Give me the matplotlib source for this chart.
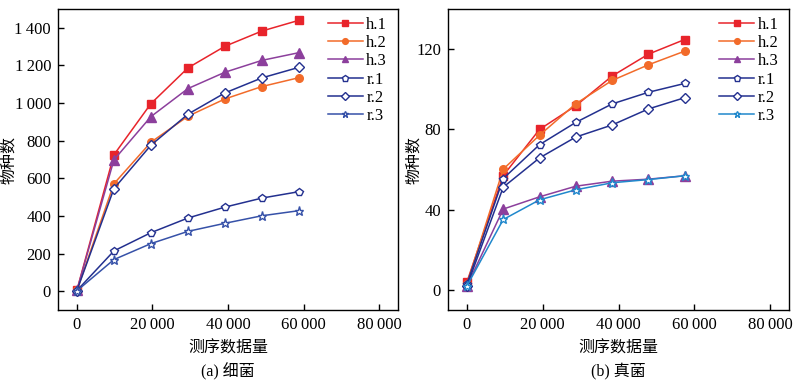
import numpy as np
import matplotlib.pyplot as plt
from matplotlib.ticker import FuncFormatter

plt.rcParams['font.family'] = ['Liberation Serif', 'Noto Sans CJK SC']
plt.rcParams['axes.unicode_minus'] = False

# sequencing depth (x) for each panel
x_bact = [0, 9800, 19600, 29400, 39200, 49000, 58800]
x_fung = [0, 9580, 19160, 28740, 38320, 47900, 57480]

# (a) bacteria
bact_h1 = [5, 725, 997, 1187, 1302, 1383, 1440]
bact_h2 = [4, 571, 792, 930, 1022, 1088, 1135]
bact_h3 = [4, 698, 928, 1077, 1164, 1227, 1268]
bact_r1 = [3, 214, 311, 389, 447, 495, 529]
bact_r2 = [3, 545, 776, 941, 1054, 1134, 1190]
bact_r3 = [2, 168, 253, 318, 361, 401, 428]

# (b) fungi
fung_h1 = [4, 57, 80, 91.8, 106.6, 117.5, 124.8]
fung_h2 = [3, 60.2, 77.1, 92.8, 104.4, 112.2, 119]
fung_h3 = [2, 40.3, 46.4, 51.7, 54.2, 55.2, 56.9]
fung_r1 = [3, 55.5, 72.4, 83.5, 92.7, 98.5, 102.9]
fung_r2 = [2, 51.2, 65.8, 76.2, 82.2, 90.2, 95.8]
fung_r3 = [2, 35.1, 44.9, 49.9, 53.4, 55, 56.9]

labels = ['h.1', 'h.2', 'h.3', 'r.1', 'r.2', 'r.3']
markers = ['s', 'o', '^', 'p', 'D', '*']
filled = [True, True, True, False, False, False]
msizes = [5.5, 5.5, 6.5, 6, 5, 6.5]
colors_a = ['#e8242b', '#f26b2a', '#8c3f9c', '#23308f', '#23308f', '#3651a8']
colors_b = ['#e8242b', '#f26b2a', '#8c3f9c', '#23308f', '#23308f', '#2088cc']


def thin(v, pos):
    s = f'{int(round(v)):,}'
    return s.replace(',', '\u2009')


fig = plt.figure(figsize=(8, 3.82), dpi=100)
ax1 = fig.add_axes([58 / 800, 1 - 310 / 382, 340 / 800, 301 / 382])
ax2 = fig.add_axes([448 / 800, 1 - 310 / 382, 341 / 800, 301 / 382])

panels = [
    (ax1, x_bact, [bact_h1, bact_h2, bact_h3, bact_r1, bact_r2, bact_r3], colors_a,
     (-100, 1500), np.arange(0, 1401, 200), '(a) 细菌', -0.12, 0.794),
    (ax2, x_fung, [fung_h1, fung_h2, fung_h3, fung_r1, fung_r2, fung_r3], colors_b,
     (-10, 140), np.arange(0, 121, 40), '(b) 真菌', -0.076, 0.795),
]

for ax, xs, series, cols, ylim, yt, title, ylx, lgx in panels:
    for ys, lab, m, f, ms, c in zip(series, labels, markers, filled, msizes, cols):
        ax.plot(xs, ys, marker=m, color=c, markersize=ms, linewidth=1.1,
                markerfacecolor=c if f else 'white', markeredgecolor=c,
                markeredgewidth=1.0, label=lab)
    ax.set_xlim(-5000, 85000)
    ax.set_ylim(*ylim)
    ax.set_xticks([0, 20000, 40000, 60000, 80000])
    ax.set_yticks(yt)
    ax.xaxis.set_major_formatter(FuncFormatter(thin))
    ax.yaxis.set_major_formatter(FuncFormatter(thin))
    ax.tick_params(direction='in', length=4, width=1, labelsize=12, pad=5)
    for sp in ax.spines.values():
        sp.set_linewidth(1.0)
    ax.set_xlabel('测序数据量', fontsize=11.5)
    ax.xaxis.set_label_coords(0.5, -0.103)
    ax.set_ylabel('物种数', fontsize=11.5)
    ax.yaxis.set_label_coords(ylx, 0.5)
    ax.text(0.5, -0.206, title, transform=ax.transAxes, ha='center', va='center', fontsize=11.5)
    ax.legend(loc='upper left', bbox_to_anchor=(lgx, 0.975), frameon=False, fontsize=12,
              handlelength=2.1, handletextpad=0.2, labelspacing=0.14,
              borderaxespad=0, borderpad=0, markerscale=0.75)

fig.savefig('out.png', dpi=100)
